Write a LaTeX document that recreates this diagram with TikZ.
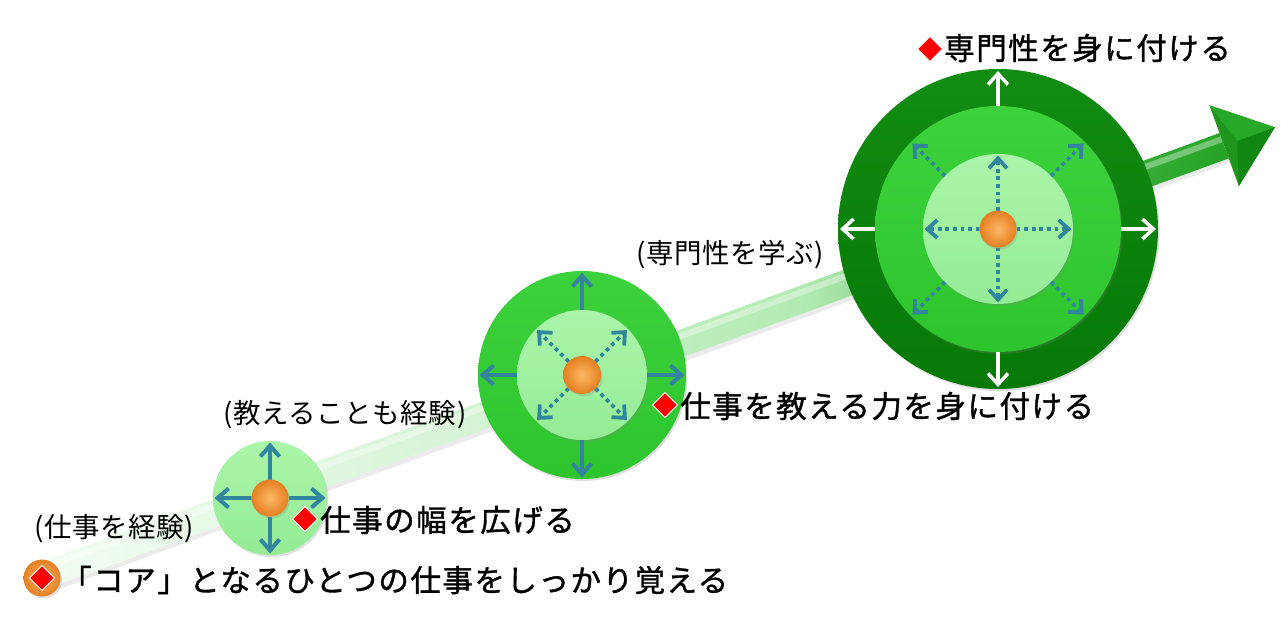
\documentclass[tikz,border=0pt]{standalone}
\usepackage{fontspec}
\newfontfamily\jpL[LetterSpace=5, FakeBold=1.2]{Noto Sans CJK JP}
\newfontfamily\jpS[LetterSpace=2]{Noto Sans CJK JP}
\usetikzlibrary{arrows.meta,shapes.geometric,calc,shadows}
\definecolor{tealc}{RGB}{49,133,156}
\definecolor{lgT}{HTML}{AAF5AA}
\definecolor{lgB}{HTML}{95EC95}
\definecolor{bgT}{HTML}{3DD23D}
\definecolor{bgB}{HTML}{2EC42E}
\definecolor{dgT}{HTML}{128C12}
\definecolor{dgB}{HTML}{067806}
\definecolor{orI}{HTML}{FCB865}
\definecolor{orO}{HTML}{E57F22}
\definecolor{bA}{HTML}{F2FCF2}
\definecolor{bB}{HTML}{D8F5D8}
\definecolor{bC}{HTML}{B2EAB2}
\definecolor{bD}{HTML}{3DB03D}
\definecolor{bE}{HTML}{25A325}
\definecolor{ahM}{HTML}{1E961E}
\definecolor{ahT}{HTML}{28A828}
\definecolor{ahB}{HTML}{108710}
\pgfdeclarehorizontalshading{bandshade}{100bp}{color(0bp)=(bA); color(25bp)=(bA); color(42bp)=(bB); color(57bp)=(bC); color(70bp)=(bD); color(75bp)=(bE); color(100bp)=(bE)}
\begin{document}
\begin{tikzpicture}[x=1pt,y=-1pt,
  disc/.style={circle, inner sep=0, outer sep=0, minimum size=#1},
  shad/.style={drop shadow={shadow xshift=1.5pt, shadow yshift=-2pt, opacity=0.25}},
  lightdisc/.style={disc=#1, top color=lgT, bottom color=lgB, shad},
  brightdisc/.style={disc=#1, top color=bgT, bottom color=bgB, shad},
  darkdisc/.style={disc=#1, top color=dgT, bottom color=dgB, shad},
  orb/.style={disc=#1, inner color=orI, outer color=orO, shad},
  reddia/.style={diamond, aspect=1, inner sep=0, outer sep=0, minimum size=25, fill=red, draw=white, line width=0.8},
  arrS/.style={draw=tealc, line width=4, -{Straight Barb[length=11pt,width=19pt]}},
  arrD/.style={draw=tealc, line width=3.8, dash pattern=on 3.8pt off 3.8pt, -{Straight Barb[length=10pt,width=18pt]}},
  arrW/.style={draw=white, line width=3.5, -{Straight Barb[length=11pt,width=20pt]}},
  mainlabel/.style={anchor=west, inner sep=0, font=\jpL\fontsize{30.5}{36}\selectfont},
  sublabel/.style={inner sep=0, font=\jpS\fontsize{27.5}{32}\selectfont}
]
\useasboundingbox[fill=white] (0,0) rectangle (1281,643);

% ---- growth band with arrowhead ----
\begin{scope}[shift={(42,576)}, rotate=20]
  \fill[black, opacity=0.08] (0,13.5) -- (1258,13.5) -- (1258,18) -- (0,18) -- cycle;
  \shade[shading=bandshade] (0,-13.5) -- (1258,-13.5) -- (1258,13.5) -- (0,13.5) -- cycle;
  \fill[white, opacity=0.35] (0,-10) -- (1258,-10) -- (1258,-4) -- (0,-4) -- cycle;
  \fill[ahM] (1258,-43) -- (1312,0) -- (1258,43) -- cycle;
  \fill[ahT] (1258,-43) -- (1312,0) -- (1272,0) -- cycle;
  \fill[ahB] (1258,43) -- (1312,0) -- (1272,0) -- cycle;
\end{scope}

% ---- stage 1 ----
\node[lightdisc=114] (c1) at (270,498) {};
\node[disc=37] (b1) at (270,498) {};
\draw[arrS, shorten >=1.5] (b1) -- (c1.north);
\draw[arrS, shorten >=1.5] (b1) -- (c1.south);
\draw[arrS, shorten >=1.5] (b1) -- (c1.east);
\draw[arrS, shorten >=1.5] (b1) -- (c1.west);
\node[orb=37] at (b1) {};

% ---- stage 2 ----
\node[brightdisc=208] (c2) at (582,375) {};
\node[lightdisc=130] (c2in) at (582,375) {};
\node[disc=38] (b2) at (582,375) {};
\draw[arrS, shorten >=1.5] (c2in.north) -- (c2.north);
\draw[arrS, shorten >=1.5] (c2in.south) -- (c2.south);
\draw[arrS, shorten >=1.5] (c2in.east) -- (c2.east);
\draw[arrS, shorten >=1.5] (c2in.west) -- (c2.west);
\draw[arrD, shorten >=1.5] (b2.north west) -- (c2in.north west);
\draw[arrD, shorten >=1.5] (b2.north east) -- (c2in.north east);
\draw[arrD, shorten >=1.5] (b2.south west) -- (c2in.south west);
\draw[arrD, shorten >=1.5] (b2.south east) -- (c2in.south east);
\node[orb=38] at (b2) {};

% ---- stage 3 ----
\node[darkdisc=320] (c3) at (998,229) {};
\node[brightdisc=246] (c3mid) at (998,229) {};
\node[lightdisc=150] (c3in) at (998,229) {};
\node[disc=37] (b3) at (998,229) {};
\draw[arrW, shorten >=2] (c3mid.north) -- (c3.north);
\draw[arrW, shorten >=2] (c3mid.south) -- (c3.south);
\draw[arrW, shorten >=2] (c3mid.east) -- (c3.east);
\draw[arrW, shorten >=2] (c3mid.west) -- (c3.west);
\draw[arrD, shorten >=1.5] (b3.north) -- (c3in.north);
\draw[arrD, shorten >=1.5] (b3.south) -- (c3in.south);
\draw[arrD, shorten >=1.5] (b3.east) -- (c3in.east);
\draw[arrD, shorten >=1.5] (b3.west) -- (c3in.west);
\draw[arrD, shorten >=2] (c3in.north west) -- (c3mid.north west);
\draw[arrD, shorten >=2] (c3in.north east) -- (c3mid.north east);
\draw[arrD, shorten >=2] (c3in.south west) -- (c3mid.south west);
\draw[arrD, shorten >=2] (c3in.south east) -- (c3mid.south east);
\node[orb=37] at (b3) {};

% ---- start point ----
\node[orb=37] (b0) at (42,578) {};
\node[reddia] (d0) at (b0) {};

% ---- labels ----
\node[mainlabel] (t0) at (61,580) {「コア」となるひとつの仕事をしっかり覚える};
\node[reddia] (d1) at (305,519) {};
\node[mainlabel] (t1) at (320,520) {仕事の幅を広げる};
\node[reddia] (d2) at (665,405) {};
\node[mainlabel] (t2) at (680,406) {仕事を教える力を身に付ける};
\node[reddia] (d3) at (930,49) {};
\node[mainlabel] (t3) at (944,48) {専門性を身に付ける};

\node[sublabel] (s1) at (114,529) {(仕事を経験)};
\node[sublabel] (s2) at (345,415) {(教えることも経験)};
\node[sublabel] (s3) at (730,255) {(専門性を学ぶ)};
\end{tikzpicture}
\end{document}
